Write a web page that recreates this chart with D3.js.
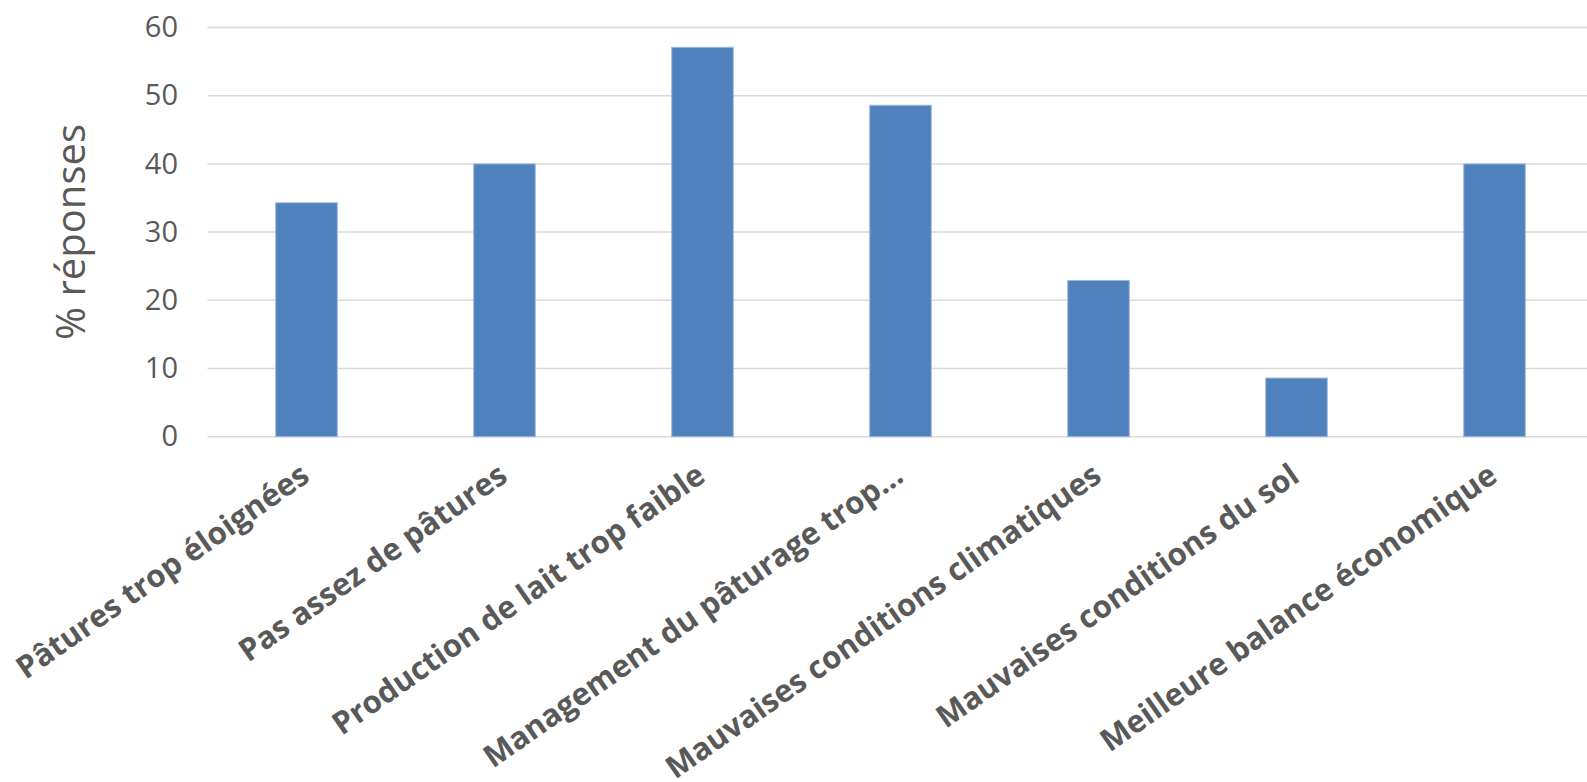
<!DOCTYPE html>
<html>
<head>
<meta charset="utf-8">
<script src="https://cdn.jsdelivr.net/npm/d3@7"></script>
<style>
  html, body { margin: 0; padding: 0; background: #fff; }
  svg { display: block; }
</style>
</head>
<body>
<svg id="chart" width="1587" height="782"></svg>
<script>
const categories = [
  "Pâtures trop éloignées",
  "Pas assez de pâtures",
  "Production de lait trop faible",
  "Management du pâturage trop…",
  "Mauvaises conditions climatiques",
  "Mauvaises conditions du sol",
  "Meilleure balance économique"
];
const values = [34.3, 40.0, 57.1, 48.6, 22.9, 8.6, 40.0];
const yTicks = [0, 10, 20, 30, 40, 50, 60];
const yTitle = "% réponses";

const svg = d3.select("#chart");
const plotLeft = 207.5, plotRight = 1593.5, plotTop = 27.5, plotBottom = 436.7;

const x = d3.scaleBand()
  .domain(categories)
  .range([plotLeft, plotRight])
  .paddingInner(0.689)
  .paddingOuter(0.3445);

const y = d3.scaleLinear().domain([0, 60]).range([plotBottom, plotTop]);

// gridlines
svg.append("g").selectAll("line")
  .data(yTicks)
  .join("line")
  .attr("x1", plotLeft).attr("x2", plotRight)
  .attr("y1", d => y(d)).attr("y2", d => y(d))
  .attr("stroke", "#d9d9d9")
  .attr("stroke-width", 1.5);

// bars
svg.append("g").selectAll("rect")
  .data(values)
  .join("rect")
  .attr("x", (d, i) => x(categories[i]))
  .attr("width", x.bandwidth())
  .attr("y", d => y(d))
  .attr("height", d => y(0) - y(d))
  .attr("fill", "#4f81bd")
  .attr("stroke", "#9fb8dd")
  .attr("stroke-width", 1);

// y axis labels
const yAxis = d3.axisLeft(y).tickValues(yTicks).tickSize(0).tickPadding(0);
const yg = svg.append("g").attr("transform", `translate(178,0)`).call(yAxis);
yg.select(".domain").remove();
yg.selectAll("text")
  .attr("font-family", "'Open Sans', sans-serif")
  .attr("font-size", 29)
  .attr("fill", "#595959");

// x axis labels
const xAxis = d3.axisBottom(x).tickSize(0).tickPadding(0);
const xg = svg.append("g").attr("transform", `translate(-8,${plotBottom + 25})`).call(xAxis);
xg.select(".domain").remove();
xg.selectAll("text")
  .attr("font-family", "'Open Sans', sans-serif")
  .attr("font-weight", 700)
  .attr("font-size", 31)
  .attr("fill", "#595959")
  .attr("text-anchor", "end")
  .attr("dy", "0.72em")
  .attr("y", 0)
  .attr("transform", "rotate(-35)");

// y title
svg.append("text")
  .attr("transform", "translate(85,232) rotate(-90)")
  .attr("text-anchor", "middle")
  .attr("font-family", "'Open Sans', sans-serif")
  .attr("font-size", 40)
  .attr("fill", "#595959")
  .text(yTitle);
</script>
</body>
</html>
